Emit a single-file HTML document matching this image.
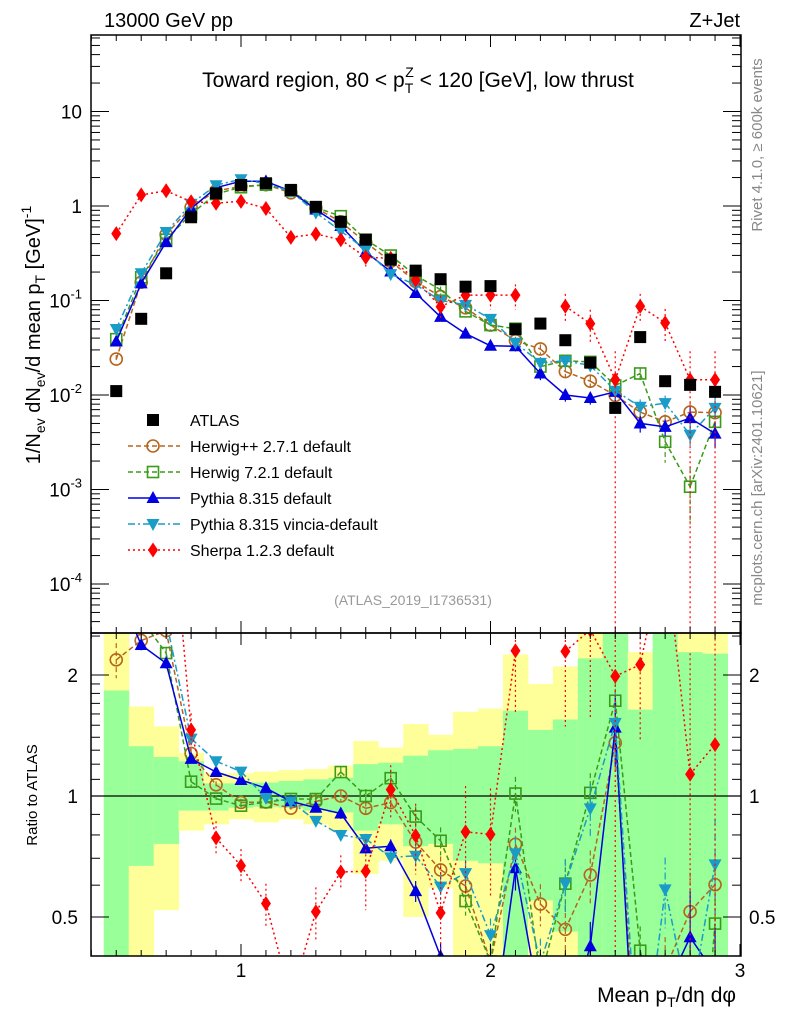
<!DOCTYPE html>
<html><head><meta charset="utf-8">
<style>
html,body{margin:0;padding:0;background:#fff;width:786px;height:1024px;overflow:hidden;}
svg{display:block;font-family:"Liberation Sans",Arial,sans-serif;overflow:hidden;}
</style></head>
<body>
<svg id="chart" width="786" height="1024" viewBox="0 0 786 1024" xmlns="http://www.w3.org/2000/svg">
<defs>
<clipPath id="cm"><rect x="91" y="35" width="650" height="598"/></clipPath>
<clipPath id="cr"><rect x="91" y="633" width="650" height="323"/></clipPath>
</defs>
<g id="bands" clip-path="url(#cr)"></g>
<g id="mainSeries" clip-path="url(#cm)"></g>
<g id="ratioSeries" clip-path="url(#cr)"></g>
<g id="axes"></g>
<text x="104" y="27" font-size="20">13000 GeV pp</text>
<text x="740" y="27" font-size="20" text-anchor="end">Z+Jet</text>
<text x="418" y="87" font-size="21" text-anchor="middle">Toward region, 80 &lt; p<tspan font-size="14" dy="6">T</tspan><tspan font-size="14" dx="-8" dy="-16">Z</tspan><tspan dy="10"> &lt; 120 [GeV], low thrust</tspan></text>
<text transform="translate(40,335) rotate(-90)" font-size="20" text-anchor="middle">1/N<tspan font-size="14" dy="5">ev</tspan><tspan dy="-5"> dN</tspan><tspan font-size="14" dy="5">ev</tspan><tspan dy="-5">/d mean p</tspan><tspan font-size="14" dy="5">T</tspan><tspan dy="-5"> [GeV]</tspan><tspan font-size="14" dy="-9">-1</tspan></text>
<text transform="translate(37,795) rotate(-90)" font-size="15" text-anchor="middle">Ratio to ATLAS</text>
<text x="736" y="1002" font-size="21" text-anchor="end">Mean p<tspan font-size="14" dy="5">T</tspan><tspan dy="-5">/dη dφ</tspan></text>
<text transform="translate(762,145) rotate(-90)" font-size="15" fill="#888" text-anchor="middle">Rivet 4.1.0, ≥ 600k events</text>
<text transform="translate(762,488) rotate(-90)" font-size="15" fill="#888" text-anchor="middle">mcplots.cern.ch [arXiv:2401.10621]</text>
<text x="413" y="605" font-size="14" fill="#999" text-anchor="middle">(ATLAS_2019_I1736531)</text>
<g id="legend"></g>
</svg>
<script>
const bins = [0.5,0.6,0.7,0.8,0.9,1.0,1.1,1.2,1.3,1.4,1.5,1.6,1.7,1.8,1.9,2.0,2.1,2.2,2.3,2.4,2.5,2.6,2.7,2.8,2.9];
const atlas = [0.011,0.064,0.194,0.76,1.36,1.67,1.74,1.48,0.98,0.68,0.44,0.27,0.207,0.168,0.14,0.142,0.0496,0.057,0.038,0.022,0.0073,0.041,0.014,0.0128,0.0108];
const herwigpp = [0.024,0.156,0.5,0.97,1.45,1.61,1.68,1.38,0.95,0.68,0.41,0.26,0.159,0.11,0.0836,0.055,0.0376,0.0307,0.0177,0.014,0.0099,0.0066,0.0052,0.0066,0.0065];
const herwig7 = [0.039,0.176,0.44,0.825,1.34,1.58,1.68,1.455,0.963,0.78,0.44,0.299,0.184,0.13,0.0767,0.055,0.0503,0.02,0.023,0.0224,0.0126,0.0169,0.0032,0.00107,0.0052];
const pythia = [0.0368,0.152,0.415,0.94,1.56,1.83,1.82,1.435,0.916,0.615,0.326,0.2025,0.12,0.067,0.0446,0.0332,0.0328,0.0169,0.01,0.0093,0.0108,0.005,0.0046,0.0057,0.0039];
const vincia = [0.05,0.194,0.53,1.056,1.66,1.92,1.72,1.435,0.85,0.544,0.344,0.19,0.147,0.1,0.09,0.064,0.0357,0.0219,0.023,0.0205,0.0111,0.0075,0.0082,0.0038,0.0073];
const sherpa = [0.51,1.31,1.45,1.11,1.07,1.12,0.94,0.466,0.505,0.44,0.286,0.28,0.165,0.086,0.114,0.114,0.114,null,0.087,0.057,0.0145,0.087,0.058,0.0145,0.0145];
const errHpp = [0.1,0.04,0.03,0.03,0.02,0.02,0.02,0.02,0.03,0.03,0.04,0.05,0.06,0.08,0.08,0.1,0.1,0.12,0.15,0.15,0.15,0.2,0.2,0.25,0.2];
const errH7 = [0.05,0.04,0.03,0.03,0.02,0.02,0.02,0.02,0.03,0.03,0.04,0.05,0.06,0.08,0.08,0.1,0.1,0.15,0.15,0.12,0.12,0.15,0.4,0.6,0.2];
const errPy = [0.05,0.03,0.03,0.02,0.02,0.02,0.02,0.02,0.02,0.03,0.03,0.04,0.06,0.08,0.08,0.1,0.12,0.15,0.15,0.15,0.2,0.2,0.2,0.3,0.3];
const errVi = [0.05,0.03,0.03,0.02,0.02,0.02,0.02,0.02,0.02,0.03,0.03,0.04,0.06,0.08,0.08,0.1,0.1,0.15,0.15,0.15,0.2,0.2,0.2,0.3,0.3];
const errSh = [0.1,0.05,0.05,0.1,0.1,0.1,0.12,0.1,0.15,0.1,0.2,0.15,0.2,0.3,0.3,0.3,0.3,0,0.35,0.4,1.0,0.35,0.4,1.0,1.0];
const greenLo = [0.1,0.67,0.76,0.92,0.92,0.935,0.94,0.935,0.92,0.91,0.82,0.85,0.75,0.76,0.69,0.68,0.1,0.55,0.46,0.1,0.1,0.1,0.1,0.1,0.1];
const greenHi = [1.83,1.33,1.25,1.22,1.075,1.075,1.08,1.09,1.1,1.11,1.2,1.21,1.26,1.3,1.31,1.33,1.63,1.46,1.55,2.2,5,1.64,5,2.28,2.26];
const yellowLo = [0.1,0.1,0.52,0.82,0.85,0.875,0.86,0.875,0.85,0.82,0.64,0.69,0.5,0.59,0.1,0.1,0.1,0.1,0.1,0.1,0.1,0.1,0.1,0.1,0.1];
const yellowHi = [5,1.67,1.49,1.28,1.14,1.14,1.15,1.16,1.167,1.19,1.37,1.32,1.51,1.42,1.62,1.65,2.25,1.9,2.1,5,5,2.28,5,5,5];
const mainTicks = [1,0,-1,-2,-3,-4];
const ratioTicks = [2,1,0.5];
const xTicks = [1,2,3];

const NS='http://www.w3.org/2000/svg';
const RB=956;
const X = v => 241 + (v-1)*249.5;
const YM = v => 206 - 94.5*Math.log10(v);
const YR = r => 796 - 121*Math.log2(r);
const W = 24.95;
const cl=(v,a,b)=>Math.max(a,Math.min(b,v));
function mk(tag, attrs, parent){const e=document.createElementNS(NS,tag);for(const k in attrs)e.setAttribute(k,attrs[k]);parent.appendChild(e);return e;}
const bandsG=document.getElementById('bands'), mainG=document.getElementById('mainSeries'), ratG=document.getElementById('ratioSeries'), axG=document.getElementById('axes'), legG=document.getElementById('legend');

bins.forEach((b,i)=>{
  const x0=X(b)-W/2;
  const yt1=cl(YR(yellowHi[i]),633,RB), yb1=cl(YR(yellowLo[i]),633,RB);
  let r=mk('rect',{x:x0,y:yt1,width:W+0.5,height:Math.max(0,yb1-yt1),fill:'#ffff99'},bandsG);
  
  
  const yt2=cl(YR(greenHi[i]),633,RB), yb2=cl(YR(greenLo[i]),633,RB);
  let g=mk('rect',{x:x0,y:yt2,width:W+0.5,height:Math.max(0,yb2-yt2),fill:'#99ff99'},bandsG);
  
  
});
let ref=mk('line',{x1:91,x2:741,y1:YR(1),y2:YR(1),stroke:'#000','stroke-width':1.3},ratG);



function marker(parent,shape,x,y,color,name){
  let e;
  const s=6;
  if(shape==='square') e=mk('rect',{x:x-s,y:y-s,width:2*s,height:2*s,fill:color},parent);
  else if(shape==='osquare') e=mk('rect',{x:x-5.5,y:y-5.5,width:11,height:11,fill:'none',stroke:color,'stroke-width':1.6},parent);
  else if(shape==='ocircle') e=mk('circle',{cx:x,cy:y,r:6,fill:'none',stroke:color,'stroke-width':1.6},parent);
  else if(shape==='up') e=mk('polygon',{points:`${x},${y-7} ${x-6.5},${y+5} ${x+6.5},${y+5}`,fill:color},parent);
  else if(shape==='down') e=mk('polygon',{points:`${x},${y+7} ${x-6.5},${y-5} ${x+6.5},${y-5}`,fill:color},parent);
  else if(shape==='diamond') e=mk('polygon',{points:`${x},${y-7.5} ${x-5},${y} ${x},${y+7.5} ${x+5},${y}`,fill:color},parent);
  
  
}

const series=[
 {name:'herwigpp',vals:herwigpp,err:errHpp,color:'#b5651d',dash:'5,3',shape:'ocircle',label:'Herwig++ 2.7.1 default'},
 {name:'herwig7',vals:herwig7,err:errH7,color:'#3a9a1a',dash:'5,3',shape:'osquare',label:'Herwig 7.2.1 default'},
 {name:'pythia',vals:pythia,err:errPy,color:'#0000e0',dash:'',shape:'up',label:'Pythia 8.315 default'},
 {name:'vincia',vals:vincia,err:errVi,color:'#1a9cc8',dash:'7,3,2,3',shape:'down',label:'Pythia 8.315 vincia-default'},
 {name:'sherpa',vals:sherpa,err:errSh,color:'#ff0000',dash:'2,3',shape:'diamond',label:'Sherpa 1.2.3 default'}
];

// clip segment to y in [ymin,ymax]
function clipSeg(x1,y1,x2,y2,ymin,ymax){
  let t0=0,t1=1;const dy=y2-y1;
  if(dy===0){if(y1<ymin||y1>ymax)return null;return [x1,y1,x2,y2];}
  let ta=(ymin-y1)/dy, tb=(ymax-y1)/dy;
  let lo=Math.min(ta,tb), hi=Math.max(ta,tb);
  t0=Math.max(0,lo);t1=Math.min(1,hi);
  if(t0>t1)return null;
  return [x1+(x2-x1)*t0,y1+dy*t0,x1+(x2-x1)*t1,y1+dy*t1];
}

function drawSeries(parent,s,yf,getv,ymin,ymax,bottom){
  let d='';
  for(let i=0;i<bins.length-1;i++){
    const a=getv(i),b=getv(i+1);
    if(a==null||b==null||a<=0||b<=0)continue;
    const c=clipSeg(X(bins[i]),yf(a),X(bins[i+1]),yf(b),ymin,ymax);
    if(c)d+='M'+c[0].toFixed(1)+','+c[1].toFixed(1)+'L'+c[2].toFixed(1)+','+c[3].toFixed(1);
  }
  let p=mk('path',{d:d||'M0,0',fill:'none',stroke:s.color,'stroke-width':1.5,'stroke-dasharray':s.dash},parent);
  
  
  bins.forEach((b,i)=>{const v=getv(i);if(v==null||v<=0)return;
    const y=yf(v);if(y<ymin||y>ymax)return;
    const e=s.err[i];const lo=v*(1-e);const hi=v*(1+e);
    const yl=lo>0?cl(yf(lo),ymin,bottom):bottom;
    let eb=mk('line',{x1:X(b),x2:X(b),y1:cl(yf(hi),ymin,ymax),y2:yl,stroke:s.color,'stroke-width':1.2,'stroke-dasharray':s.dash},parent);
    
    
    marker(parent,s.shape,X(b),y,s.color,s.name+'-point');
  });
}
series.forEach(s=>{
  drawSeries(mainG,s,YM,i=>s.vals[i],20,640,633);
  drawSeries(ratG,s,YR,i=>s.vals[i]==null?null:s.vals[i]/atlas[i],600,1000,RB);
});
bins.forEach((b,i)=>marker(mainG,'square',X(b),YM(atlas[i]),'#000','atlas-point'));

[[35,633],[633,RB]].forEach(([t,bt],k)=>{
  let r=mk('rect',{x:91,y:t,width:650,height:bt-t,fill:'none',stroke:'#000','stroke-width':1.5},axG);
  
  
  for(let v=0.4;v<=3.001;v+=0.1){
    const x=X(v);const maj=Math.abs(v-Math.round(v))<0.01;const L=maj?12:6;
    mk('line',{x1:x,x2:x,y1:bt,y2:bt-L,stroke:'#000','stroke-width':1},axG);
    mk('line',{x1:x,x2:x,y1:t,y2:t+L,stroke:'#000','stroke-width':1},axG);
  }
});
for(let dec=-5;dec<=1;dec++){
  for(let m=1;m<10;m++){
    const v=m*Math.pow(10,dec);const y=YM(v);if(y<35||y>633)continue;
    const L=m===1?18:9;
    mk('line',{x1:91,x2:91+L,y1:y,y2:y,stroke:'#000','stroke-width':1},axG);
    mk('line',{x1:741,x2:741-L,y1:y,y2:y,stroke:'#000','stroke-width':1},axG);
  }
}
mainTicks.forEach(p=>{
  const y=YM(Math.pow(10,p));
  let t=mk('text',{x:82,y:y+7,'font-size':19,'text-anchor':'end'},axG);
  
  
  if(p===1)t.textContent='10';else if(p===0)t.textContent='1';
  else{t.innerHTML='10<tspan font-size="13" dy="-9">'+(p)+'</tspan>';}
});
[0.4,0.5,0.6,0.7,0.8,0.9,1,1.1,1.2,1.3,1.4,1.5,1.6,1.7,1.8,1.9,2,2.5].forEach(v=>{
  const y=YR(v);if(y<633||y>RB)return;const maj=(v===0.5||v===1||v===2);const L=maj?18:9;
  mk('line',{x1:91,x2:91+L,y1:y,y2:y,stroke:'#000','stroke-width':1},axG);
  mk('line',{x1:741,x2:741-L,y1:y,y2:y,stroke:'#000','stroke-width':1},axG);
});
ratioTicks.forEach(v=>{
  let t=mk('text',{x:78,y:YR(v)+7,'font-size':19,'text-anchor':'end'},axG);
  t.textContent=String(v);
  
  
  let t2=mk('text',{x:749,y:YR(v)+7,'font-size':19},axG);
  t2.textContent=String(v);
  
  
});
xTicks.forEach(v=>{
  let t=mk('text',{x:X(v),y:977,'font-size':19,'text-anchor':'middle'},axG);
  t.textContent=String(v);
  
  
});
let ly=420;
marker(legG,'square',153,ly,'#000','legend-atlas-marker');
let lt=mk('text',{x:190,y:ly+6,'font-size':16},legG);lt.textContent='ATLAS';


series.forEach((s,k)=>{
  const y=446+26*k;
  let l=mk('line',{x1:128,x2:180,y1:y,y2:y,stroke:s.color,'stroke-width':1.5,'stroke-dasharray':s.dash},legG);
  
  
  marker(legG,s.shape,153,y,s.color,'legend-marker');
  let t=mk('text',{x:190,y:y+6,'font-size':16},legG);t.textContent=s.label;
  
  
});
</script>
</body></html>
